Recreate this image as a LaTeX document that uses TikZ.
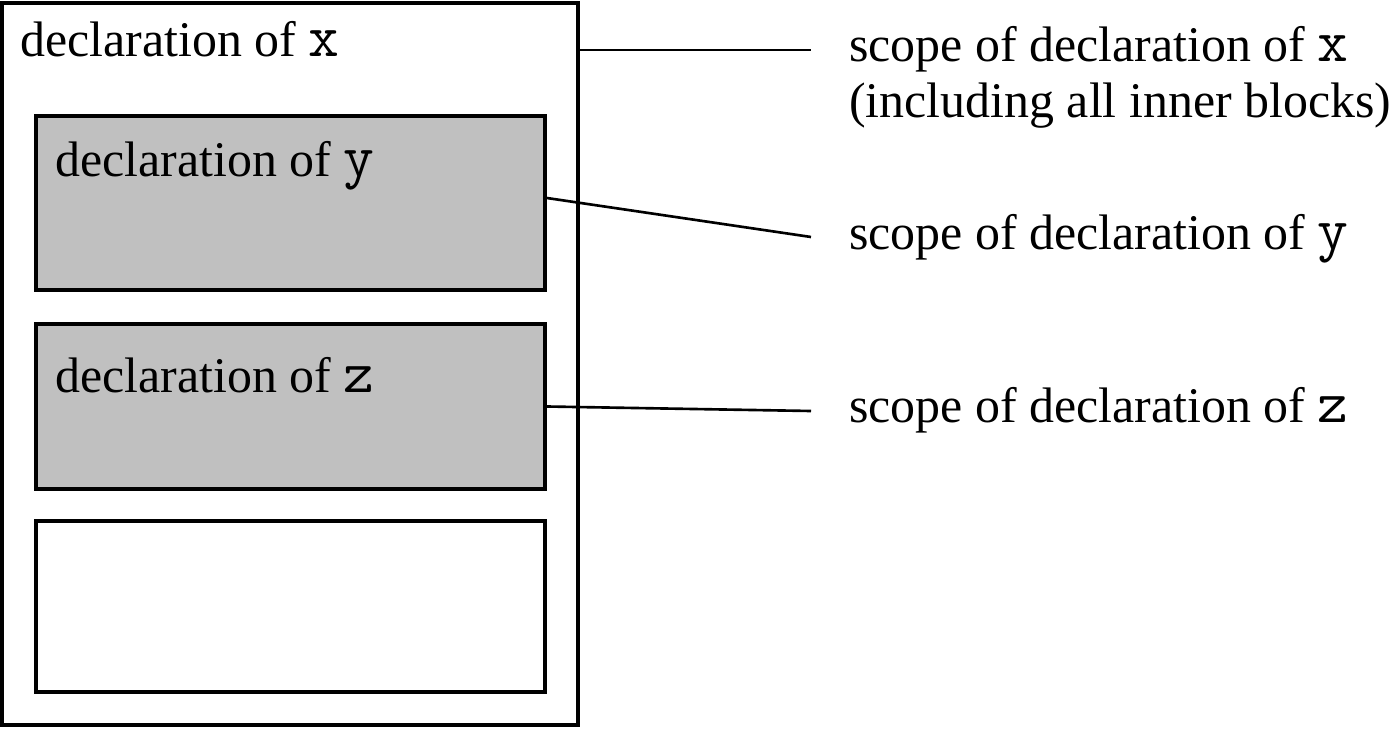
\documentclass[tikz,border=0pt]{standalone}
\usepackage{fontspec}
\setmainfont{Liberation Serif}
\setmonofont[Scale=1.2]{Latin Modern Mono}
\usetikzlibrary{positioning}
\definecolor{blockgray}{RGB}{192,192,192}
\tikzset{
    every node/.style={font=\fontsize{28.4}{32}\selectfont},
    block/.style={draw,rectangle,line width=2.2pt,inner sep=0pt},
    label node/.style={anchor=base west,inner sep=0pt,align=left},
    link/.style={line width=1.5pt}
}

\begin{document}
\begin{tikzpicture}[x=0.02cm,y=-0.02cm]

    \useasboundingbox (0,0) rectangle (1399,729);

    \node[block,minimum width=11.52cm,minimum height=14.44cm] (outer) at (290,364) {};
    \node[block,fill=blockgray,minimum width=10.18cm,minimum height=3.48cm] (ybox) at (290.5,203) {};
    \node[block,fill=blockgray,minimum width=10.18cm,minimum height=3.3cm] (zbox) at (290.5,406.5) {};
    \node[block,minimum width=10.18cm,minimum height=3.42cm] (empty) at (290.5,606.5) {};

    \node[label node] (declx) at (20,57) {declaration of \texttt{x}};
    \node[label node] (decly) at (55,177) {declaration of \texttt{y}};
    \node[label node] (declz) at (55,393) {declaration of \texttt{z}};

    % two lines: the base anchor sits on the last one
    \node[label node] (scopex) at (849,118) {scope of declaration of \texttt{x}\\(including all inner blocks)};
    \node[label node] (scopey) at (849,250) {scope of declaration of \texttt{y}};
    \node[label node] (scopez) at (849,422) {scope of declaration of \texttt{z}};

    \coordinate (xend) at (811,50);
    \coordinate (yend) at (811,237);
    \coordinate (zend) at (811,411);

    \draw[link] (outer.east |- xend) -- (xend);
    \draw[link] ([yshift=0.1cm]ybox.east) -- (yend);
    \draw[link] (zbox.east) -- (zend);

\end{tikzpicture}
\end{document}
